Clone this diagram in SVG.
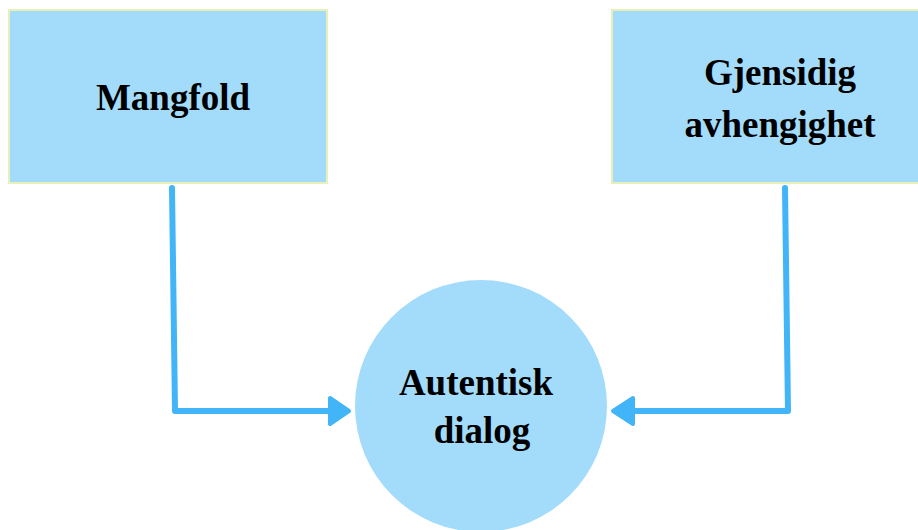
<svg xmlns="http://www.w3.org/2000/svg" width="918" height="530" viewBox="0 0 918 530">
  <style>
    .box { fill: #a3dcfb; stroke: #e8efb8; stroke-width: 2; }
    .hub { fill: #a3dcfb; }
    .lbl { font-family: "Liberation Serif", "Times New Roman", serif; font-weight: bold; font-size: 37px; fill: #000; text-anchor: middle; }
    .link { fill: none; stroke: #42b4f8; stroke-width: 6; stroke-linecap: round; stroke-linejoin: round; }
    .head { fill: #42b4f8; stroke: #42b4f8; stroke-width: 4; stroke-linejoin: round; }
  </style>
  <rect width="918" height="530" fill="#ffffff"/>

  <g id="connectors">
    <path class="link" d="M172 188 L175 411 L330 411"/>
    <polygon class="head" points="330,398 349,411 330,424"/>
    <path class="link" d="M785 188 L788 411 L633 411"/>
    <polygon class="head" points="633,398 613,411 633,424"/>
  </g>

  <g id="mangfold">
    <rect class="box" x="9" y="10" width="318" height="173"/>
    <text class="lbl" x="173" y="110">Mangfold</text>
  </g>

  <g id="gjensidig-avhengighet">
    <rect class="box" x="612" y="10" width="320" height="173"/>
    <text class="lbl" x="780" y="85">Gjensidig</text>
    <text class="lbl" x="780" y="137">avhengighet</text>
  </g>

  <g id="autentisk-dialog">
    <circle class="hub" cx="481" cy="406" r="126"/>
    <text class="lbl" x="476" y="395">Autentisk</text>
    <text class="lbl" x="482" y="443">dialog</text>
  </g>
</svg>
